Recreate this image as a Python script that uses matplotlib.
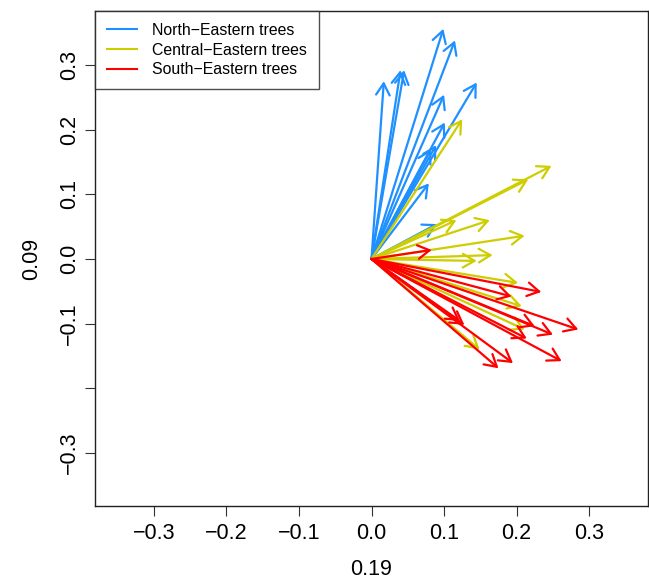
import matplotlib
matplotlib.use("Agg")
import matplotlib.pyplot as plt
from matplotlib.lines import Line2D

plt.rcParams['font.family'] = ['Liberation Sans', 'DejaVu Sans']

# Arrow tips (all arrows start at origin)
ne_x = [0.017, 0.040, 0.045, 0.099, 0.115, 0.145, 0.100, 0.101, 0.089, 0.082, 0.079, 0.090]
ne_y = [0.275, 0.292, 0.292, 0.356, 0.338, 0.273, 0.254, 0.211, 0.176, 0.170, 0.117, 0.054]

ce_x = [0.125, 0.248, 0.216, 0.117, 0.163, 0.211, 0.167, 0.145, 0.202, 0.207, 0.211, 0.149]
ce_y = [0.216, 0.144, 0.123, 0.060, 0.060, 0.036, 0.006, -0.003, -0.037, -0.073, -0.109, -0.140]

se_x = [0.083, 0.234, 0.193, 0.285, 0.225, 0.250, 0.214, 0.262, 0.195, 0.175, 0.122, 0.128]
se_y = [0.014, -0.051, -0.058, -0.109, -0.104, -0.117, -0.123, -0.158, -0.161, -0.169, -0.096, -0.102]

groups = ["North\u2212Eastern trees", "Central\u2212Eastern trees", "South\u2212Eastern trees"]
colors = ["#1E90FF", "#CDCD00", "#FF0000"]

xticks = [-0.3, -0.2, -0.1, 0.0, 0.1, 0.2, 0.3]
xticklabels = ["\u22120.3", "\u22120.2", "\u22120.1", "0.0", "0.1", "0.2", "0.3"]
yticks = [-0.3, -0.2, -0.1, 0.0, 0.1, 0.2, 0.3]
yticklabels = ["\u22120.3", "", "\u22120.1", "0.0", "0.1", "0.2", "0.3"]
xlabel = "0.19"
ylabel = "0.09"

fig = plt.figure(figsize=(6.49, 5.82), dpi=100)
ax = fig.add_axes([95/649, 76/582, 553/649, 495/582])
ax.set_xlim(-0.381, 0.381)
ax.set_ylim(-0.382, 0.3835)

for xs, ys, c in [(ne_x, ne_y, colors[0]), (ce_x, ce_y, colors[1]), (se_x, se_y, colors[2])]:
    for x, y in zip(xs, ys):
        ax.annotate("", xy=(x, y), xytext=(0, 0),
                    arrowprops=dict(arrowstyle="->,head_length=0.6,head_width=0.35",
                                    color=c, lw=1.6, shrinkA=0, shrinkB=0,
                                    mutation_scale=14))

ax.set_xticks(xticks)
ax.set_xticklabels(xticklabels, fontsize=15.5)
ax.set_yticks(yticks)
ax.set_yticklabels(yticklabels, fontsize=15.5, rotation=90, va='center')
ax.tick_params(axis='x', direction='out', length=7, width=0.8, color='#333333', pad=5)
ax.tick_params(axis='y', direction='out', length=7, width=0.8, color='#333333', pad=4)
ax.set_xlabel(xlabel, fontsize=15.5, labelpad=11)
ax.set_ylabel(ylabel, fontsize=15.5, labelpad=12)
for s in ax.spines.values():
    s.set_linewidth(1.0)
    s.set_color('#222222')

handles = [Line2D([0], [0], color=c, lw=1.5) for c in colors]
leg = ax.legend(handles, groups, loc='upper left', bbox_to_anchor=(0, 1),
                borderaxespad=0, fontsize=11.4, frameon=True, fancybox=False,
                edgecolor='#222222', handlelength=1.9, labelspacing=0.3,
                borderpad=0.75, handletextpad=0.95)
leg.get_frame().set_linewidth(1.0)

fig.savefig("out.png", dpi=100)
